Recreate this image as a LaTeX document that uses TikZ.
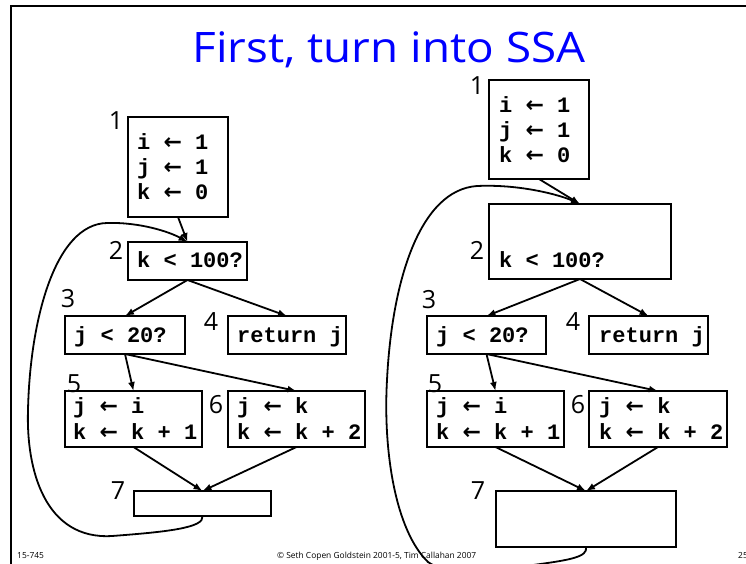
\documentclass[tikz,border=0pt]{standalone}
\usepackage{fontspec}
\setmainfont{Open Sans}
\newfontfamily\titlefont{Open Sans}[FakeStretch=1.09]
\newfontfamily\codefont{Liberation Mono}
\newfontfamily\arrowfont{DejaVu Sans}
\newcommand{\asg}{{\arrowfont\bfseries ←}}
\usetikzlibrary{arrows.meta}

\begin{document}
\begin{tikzpicture}[x=1pt,y=-1pt,
  blk/.style={draw, line width=2.2pt, inner sep=0pt, outer sep=0pt},
  code/.style={font=\codefont\bfseries\fontsize{22}{25}\selectfont, anchor=base west, inner sep=0pt},
  num/.style={font=\fontsize{25}{25}\selectfont, inner sep=0pt},
  flow/.style={line width=1.8pt, -{Latex[length=9pt,width=7pt]}},
  foot/.style={font=\fontsize{8.4}{8.4}\selectfont, anchor=base west, inner sep=0pt},
]
\useasboundingbox (0,0) rectangle (746,563);
\clip (0,0) rectangle (746,563);

% slide frame
\draw[line width=2.6pt] (746,6) -- (11,6) -- (11,570);

% title
\node[font=\titlefont\fontsize{42}{42}\selectfont, text=blue, anchor=base, inner sep=0pt] (title) at (389,62) {First, turn into SSA};

% ---------- left flow graph ----------
\node[blk, minimum width=100pt, minimum height=100pt] (L1) at (178,167) {};
\node[blk, minimum width=119pt, minimum height=38pt] (L2) at (187.5,261) {};
\node[blk, minimum width=120pt, minimum height=38pt] (L3) at (125,335) {};
\node[blk, minimum width=118pt, minimum height=38pt] (L4) at (287,335) {};
\node[blk, minimum width=137pt, minimum height=56pt] (L5) at (133.5,419) {};
\node[blk, minimum width=137pt, minimum height=56pt] (L6) at (296.5,419) {};
\node[blk, minimum width=137pt, minimum height=25pt] (L7) at (202.5,503.5) {};

\node[code] (L1a) at (137,149) {i \asg{} 1};
\node[code] (L1b) at (137,174) {j \asg{} 1};
\node[code] (L1c) at (137,199) {k \asg{} 0};
\node[code] (L2a) at (137,267) {k < 100?};
\node[code] (L3a) at (74,342) {j < 20?};
\node[code] (L4a) at (237,342) {return j};
\node[code] (L5a) at (73,413) {j \asg{} i};
\node[code] (L5b) at (73,439) {k \asg{} k + 1};
\node[code] (L6a) at (237,413) {j \asg{} k};
\node[code] (L6b) at (237,439) {k \asg{} k + 2};

\node[num] (nL1) at (116,121) {1};
\node[num] (nL2) at (116,250) {2};
\node[num] (nL3) at (68,299) {3};
\node[num] (nL4) at (211,322) {4};
\node[num] (nL5) at (74,384) {5};
\node[num] (nL6) at (216,405) {6};
\node[num] (nL7) at (118,491) {7};

\draw[flow] (L1.south) -- (L2.north);
\draw[flow] (L2.south) -- (L3.north);
\draw[flow] (L2.south) -- (L4.north);
\draw[flow] (L3.south) -- (L5.north);
\draw[flow] (L3.south) -- (L6.north);
\draw[flow] (L5.south) -- (L7.north);
\draw[flow] (L6.south) -- (L7.north);
\draw[flow] (L7.south) .. controls (205,528) and (165,532) .. (112,536)
  .. controls (45,540) and (26,470) .. (28,410)
  .. controls (30,320) and (55,224) .. (107,223)
  .. controls (140,222) and (170,232) .. (L2.north);

% ---------- right flow graph ----------
\node[blk, minimum width=100pt, minimum height=99pt] (R1) at (539,129.5) {};
\node[blk, minimum width=182pt, minimum height=75pt] (R2) at (580,241.5) {};
\node[blk, minimum width=119pt, minimum height=38pt] (R3) at (486.5,335) {};
\node[blk, minimum width=119pt, minimum height=38pt] (R4) at (648.5,335) {};
\node[blk, minimum width=137pt, minimum height=56pt] (R5) at (495.5,419) {};
\node[blk, minimum width=138pt, minimum height=56pt] (R6) at (658,419) {};
\node[blk, minimum width=180pt, minimum height=56pt] (R7) at (586,519) {};

\node[code] (R1a) at (499,112) {i \asg{} 1};
\node[code] (R1b) at (499,137) {j \asg{} 1};
\node[code] (R1c) at (499,162) {k \asg{} 0};
\node[code] (R2a) at (499,267) {k < 100?};
\node[code] (R3a) at (436,342) {j < 20?};
\node[code] (R4a) at (599,342) {return j};
\node[code] (R5a) at (436,413) {j \asg{} i};
\node[code] (R5b) at (436,439) {k \asg{} k + 1};
\node[code] (R6a) at (599,413) {j \asg{} k};
\node[code] (R6b) at (599,439) {k \asg{} k + 2};

\node[num] (nR1) at (477,86) {1};
\node[num] (nR2) at (477,250) {2};
\node[num] (nR3) at (429,300) {3};
\node[num] (nR4) at (573,322) {4};
\node[num] (nR5) at (435,384) {5};
\node[num] (nR6) at (578,405) {6};
\node[num] (nR7) at (478,491) {7};

\draw[flow] (R1.south) -- (R2.north);
\draw[flow] (R2.south) -- (R3.north);
\draw[flow] (R2.south) -- (R4.north);
\draw[flow] (R3.south) -- (R5.north);
\draw[flow] (R3.south) -- (R6.north);
\draw[flow] (R5.south) -- (R7.north);
\draw[flow] (R6.south) -- (R7.north);

% footer
\node[foot] (f1) at (17,558) {15-745};
\node[foot] (f2) at (277,558) {© Seth Copen Goldstein 2001-5, Tim Callahan 2007};
\node[foot] (f3) at (738,558) {25};

\draw[flow] (R7.south) .. controls (588,557) and (570,560) .. (533,565)
  .. controls (490,571) and (445,575) .. (428,562)
  .. controls (395,530) and (383,450) .. (387,380)
  .. controls (392,280) and (420,190) .. (477,186)
  .. controls (520,184) and (560,195) .. (R2.north);
\end{tikzpicture}
\end{document}
